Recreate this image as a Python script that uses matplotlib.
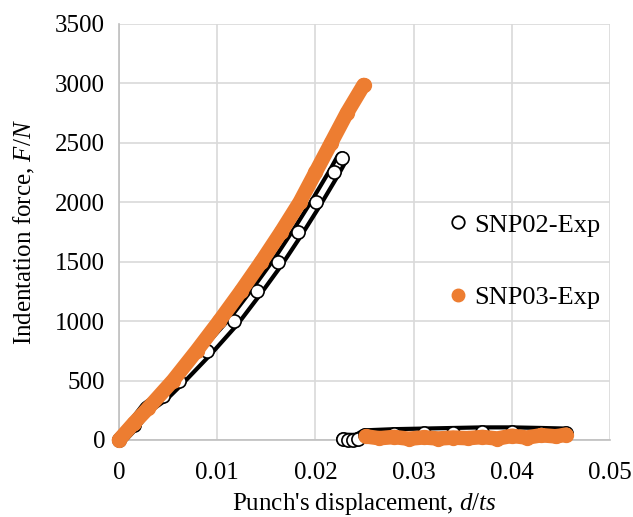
import matplotlib.pyplot as plt
from matplotlib.lines import Line2D

plt.rcParams['font.family'] = ['Liberation Serif', 'DejaVu Serif']
plt.rcParams['mathtext.fontset'] = 'custom'
plt.rcParams['mathtext.rm'] = 'Liberation Serif'
plt.rcParams['mathtext.it'] = 'Liberation Serif:italic'

# loading + unloading
snp02_x = [0, 0.0015, 0.0028, 0.0045, 0.0061, 0.009, 0.0117, 0.014, 0.0162, 0.0182,
           0.0201, 0.0219, 0.0227]
snp02_y = [0, 130, 270, 370, 500, 750, 1000, 1250, 1500, 1750, 2000, 2250, 2370]
snp02_ux = [0.0228, 0.0233, 0.0238, 0.0243, 0.0250, 0.028, 0.031, 0.034, 0.037, 0.040,
            0.043, 0.0455]
snp02_uy = [5, 3, 2, 5, 40, 50, 55, 60, 65, 65, 60, 55]

snp03_x = [0, 0.0015, 0.003, 0.0055, 0.0079, 0.0102, 0.0124, 0.0145, 0.0165, 0.0184,
           0.0200, 0.0216, 0.0232, 0.0249]
snp03_y = [0, 140, 270, 500, 750, 1000, 1250, 1500, 1750, 2000, 2250, 2500, 2750, 2985]
snp03_ux = [0.0251, 0.0265, 0.028, 0.0295, 0.031, 0.0325, 0.034, 0.0355, 0.037, 0.0385,
            0.040, 0.0415, 0.043, 0.0445, 0.0455]
snp03_uy = [30, 15, 25, 10, 22, 12, 20, 15, 25, 12, 35, 20, 40, 30, 45]

orange = '#ED7D31'
grid_c = '#D9D9D9'

fig = plt.figure(figsize=(6.33, 5.17), dpi=100)
ax = fig.add_axes([0.188, 0.149, 0.776, 0.805])

# SNP02: stacked open circles
for xs, ys in [(snp02_x, snp02_y), (snp02_ux, snp02_uy)]:
    ax.plot(xs, ys, color='black', lw=10, solid_capstyle='round', zorder=3, clip_on=False)
    ax.plot(xs, ys, color='white', lw=4, solid_capstyle='round', zorder=3, clip_on=False)
    ax.plot(xs, ys, ls='none', marker='o', ms=9.5, mfc='white', mec='black',
            mew=1.2, zorder=4, clip_on=False)

# SNP03: filled orange circles
for xs, ys in [(snp03_x, snp03_y), (snp03_ux, snp03_uy)]:
    ax.plot(xs, ys, color=orange, lw=10.5, solid_capstyle='round', zorder=5, clip_on=False)
    ax.plot(xs, ys, ls='none', marker='o', ms=10, mfc=orange, mec=orange, zorder=5,
            clip_on=False)

ax.set_xlim(0, 0.05)
ax.set_ylim(0, 3500)
ax.set_xticks([0, 0.01, 0.02, 0.03, 0.04, 0.05])
ax.set_xticklabels(['0', '0.01', '0.02', '0.03', '0.04', '0.05'])
ax.set_yticks(range(0, 3501, 500))
ax.grid(True, color=grid_c, lw=1.2)
ax.set_axisbelow(True)
for s in ['top', 'right']:
    ax.spines[s].set_visible(False)
for s in ['left', 'bottom']:
    ax.spines[s].set_color('#BFBFBF')
    ax.spines[s].set_linewidth(1.2)
ax.tick_params(length=0, labelsize=18)
ax.tick_params(axis='x', pad=16)
ax.tick_params(axis='y', pad=10)

ax.set_xlabel("Punch's displacement, $d/ts$", fontsize=18, labelpad=5)
ax.set_ylabel('Indentation force, $F/N$', fontsize=18, labelpad=13)

handles = [
    Line2D([], [], ls='none', marker='o', ms=9, mfc='white', mec='black', mew=1.3),
    Line2D([], [], ls='none', marker='o', ms=9, mfc=orange, mec=orange),
]
ax.legend(handles, ['SNP02-Exp', 'SNP03-Exp'], loc='center left',
          bbox_to_anchor=(0.645, 0.43), frameon=False, fontsize=19,
          labelspacing=1.85, handlelength=0.7, handletextpad=0.25, borderpad=0)

fig.savefig('out.png', dpi=100)
